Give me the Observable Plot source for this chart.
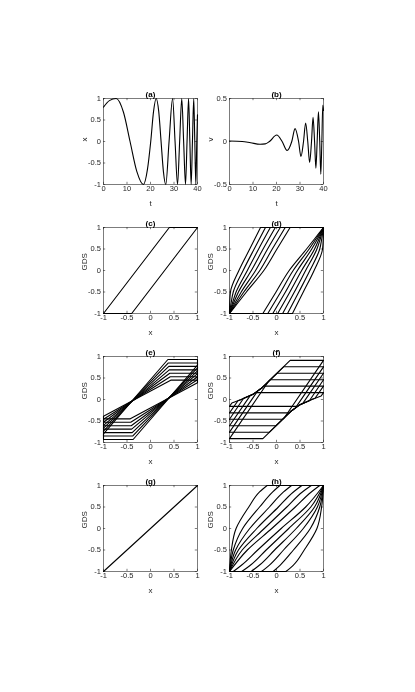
<!DOCTYPE html>
<html><head><meta charset="utf-8">
<script src="https://cdn.jsdelivr.net/npm/d3@7"></script>
<script src="https://cdn.jsdelivr.net/npm/@observablehq/plot@0.6"></script>
<style>
body{margin:0;background:#fff;}
#fig{position:relative;width:415px;height:692px;overflow:hidden;background:#fff;}
#fig > div{will-change:transform;}
</style></head><body><div id="fig"></div>
<script>
// ---------- tick labels ----------
const tTicks = [0, 10, 20, 30, 40];
const unitTicks = [-1, -0.5, 0, 0.5, 1];
const halfTicks = [-0.5, 0, 0.5];

// ---------- (a) x(t) ----------
const tA = [0, 2.5, 5.4, 8.5, 11.3, 14.2, 17, 18.7, 20.1, 21.3, 22.4, 23.5, 24.5, 25.5, 26.5, 27.9, 29.4, 30.45, 31.5, 32.4, 33.3, 34.1, 34.9, 35.55, 36.2, 36.75, 37.3, 37.85, 38.4, 38.85, 39.3, 39.7, 40];
const xA = [0.8, 0.95, 1, 0.68, 0, -0.7, -1, -0.65, 0, 0.7, 1, 0.7, 0, -0.7, -1, 0, 1, 0, -1, 0, 1, 0, -1, 0, 1, 0, -1, 0, 1, 0, -1, 0, 0.62];

// ---------- (b) v(t) ----------
const tB = [0, 5.4, 9, 13, 15.2, 17, 20.1, 22.4, 24.5, 26.5, 27.9, 29.4, 30.4, 31.5, 32.4, 33.3, 34.1, 34.9, 35.55, 36.2, 36.75, 37.3, 37.85, 38.4, 38.85, 39.3, 39.7, 40];
const vB = [0.005, 0, -0.015, -0.032, -0.028, 0, 0.075, 0, -0.105, 0, 0.15, 0, -0.175, 0, 0.215, 0, -0.245, 0, 0.28, 0, -0.31, 0, 0.345, 0, -0.38, 0, 0.42, 0.36];

// ---------- (c) single loop ----------
const cX = [-1, 0.4, 1, -0.4, -1];
const cY = [-1, 1, 1, -1, -1];

// ---------- (d) ascending / descending branches ----------
const dLevelsUp = [-1, -0.75, -0.5, 0, 0.5, 1];
const dUp = [
  [-1, -0.995, -0.98, -0.80, -0.57, -0.34],
  [-1, -0.965, -0.92, -0.71, -0.475, -0.235],
  [-1, -0.935, -0.86, -0.62, -0.38, -0.13],
  [-1, -0.91, -0.81, -0.535, -0.285, -0.025],
  [-1, -0.88, -0.75, -0.445, -0.19, 0.08],
  [-1, -0.85, -0.695, -0.355, -0.09, 0.185],
  [-1, -0.82, -0.64, -0.27, 0.01, 0.29]
];
const dLevelsDown = [-1, -0.5, 0, 0.5, 0.75, 1];
const dDown = [
  [0.34, 0.57, 0.80, 0.98, 0.995, 1],
  [0.235, 0.475, 0.71, 0.92, 0.965, 1],
  [0.13, 0.38, 0.62, 0.86, 0.935, 1],
  [0.025, 0.285, 0.535, 0.81, 0.91, 1],
  [-0.08, 0.19, 0.445, 0.75, 0.88, 1],
  [-0.185, 0.09, 0.355, 0.695, 0.85, 1],
  [-0.29, -0.01, 0.27, 0.64, 0.82, 1]
];

// ---------- (e) loops: rung height, edge start, kink ----------
const eRung = [0.93, 0.85, 0.77, 0.69, 0.61, 0.53, 0.45];
const eEdge = [0.80, 0.735, 0.665, 0.60, 0.53, 0.46, 0.39];
const eKink = [0.37, 0.38, 0.39, 0.40, 0.41, 0.42, 0.43];

// ---------- (f) loops (upper and lower branches) ----------
const fUp = [
  [[-1, -0.91], [-0.17, 0.42], [0.29, 0.91], [1, 0.91]],
  [[-1, -0.76], [-0.4, 0.2], [-0.3, 0.28], [0.15, 0.76], [1, 0.76]],
  [[-1, -0.61], [-0.56, 0.09], [-0.5, 0.12], [-0.3, 0.28], [0.01, 0.61], [1, 0.61]],
  [[-1, -0.46], [-0.7, 0.03], [-0.5, 0.12], [-0.3, 0.28], [-0.13, 0.46], [1, 0.46]],
  [[-1, -0.31], [-0.82, -0.03], [-0.75, 0], [-0.5, 0.12], [-0.3, 0.28], [-0.27, 0.31], [1, 0.31]],
  [[-1, -0.16], [-0.95, -0.08], [-0.75, 0], [-0.5, 0.12], [-0.45, 0.16], [1, 0.16]]
];
const fDown = [
  [[1, 0.91], [0.17, -0.42], [-0.29, -0.91], [-1, -0.91]],
  [[1, 0.76], [0.4, -0.2], [0.3, -0.28], [-0.15, -0.76], [-1, -0.76]],
  [[1, 0.61], [0.56, -0.09], [0.5, -0.12], [0.3, -0.28], [-0.01, -0.61], [-1, -0.61]],
  [[1, 0.46], [0.7, -0.03], [0.5, -0.12], [0.3, -0.28], [0.13, -0.46], [-1, -0.46]],
  [[1, 0.31], [0.82, 0.03], [0.75, 0], [0.5, -0.12], [0.3, -0.28], [0.27, -0.31], [-1, -0.31]],
  [[1, 0.16], [0.95, 0.08], [0.75, 0], [0.5, -0.12], [0.45, -0.16], [-1, -0.16]]
];

// ---------- (g) ----------
const gX = [-1, 1];
const gY = [-1, 1];

// ---------- (h) ascending / descending branches ----------
const hLevelsUp = [-1, -0.5, 0, 0.5, 0.85, 1];
const hUp = [
  [-1, -0.62, -0.1, 0.4, 0.74, 0.92],
  [-1, -0.73, -0.26, 0.22, 0.55, 0.74],
  [-1, -0.81, -0.42, 0.04, 0.36, 0.54],
  [-1, -0.87, -0.57, -0.15, 0.15, 0.32],
  [-1, -0.92, -0.72, -0.36, -0.08, 0.07],
  [-1, -0.96, -0.86, -0.59, -0.36, -0.2]
];
const hLevelsDown = [-1, -0.85, -0.5, 0, 0.5, 1];
const hDown = [
  [-0.92, -0.74, -0.4, 0.1, 0.62, 1],
  [-0.74, -0.55, -0.22, 0.26, 0.73, 1],
  [-0.54, -0.36, -0.04, 0.42, 0.81, 1],
  [-0.32, -0.15, 0.15, 0.57, 0.87, 1],
  [-0.07, 0.08, 0.36, 0.72, 0.92, 1],
  [0.2, 0.36, 0.59, 0.86, 0.96, 1]
];

// ---------- helpers ----------
const LW = 1.1;
const INK = "black";
const FRAME = "#262626";
const FONT = "'Liberation Sans', Arial, Helvetica, sans-serif";

function seriesRows(xs, ys) { return xs.map((x, i) => ({x, y: ys[i]})); }
function branchRows(levels, sets, tag) {
  return sets.flatMap((arr, k) => arr.map((x, i) => ({x, y: levels[i], k: tag + k})));
}
function tailRows(levels, sets, tag, xEnd, atEnd) {
  // horizontal run along the frame from a branch end to the corner
  return sets.flatMap((arr, k) => {
    const i = atEnd ? arr.length - 1 : 0;
    return [{x: arr[i], y: levels[i], k: tag + k}, {x: xEnd, y: levels[i], k: tag + k}];
  });
}
function pairRows(sets, tag) {
  return sets.flatMap((arr, k) => arr.map(([x, y]) => ({x, y, k: tag + k})));
}

const lineOpts = {x: "x", y: "y", stroke: INK, strokeWidth: LW};

const colLeft = [103.3, 229.0];
const rowTop = [97.5, 226.8, 356.2, 485.2];

const panels = [
  {title: "(a)", xlabel: "t", ylabel: "x", col: 0, row: 0, xdom: [0, 40], ydom: [-1, 1], xt: tTicks, yt: unitTicks,
   marks: [Plot.line(seriesRows(tA, xA), {...lineOpts, curve: "monotone-x"})]},
  {title: "(b)", xlabel: "t", ylabel: "v", col: 1, row: 0, xdom: [0, 40], ydom: [-0.5, 0.5], xt: tTicks, yt: halfTicks,
   marks: [Plot.line(seriesRows(tB, vB), {...lineOpts, curve: "monotone-x"})]},
  {title: "(c)", xlabel: "x", ylabel: "GDS", col: 0, row: 1, xdom: [-1, 1], ydom: [-1, 1], xt: unitTicks, yt: unitTicks,
   marks: [Plot.line(seriesRows(cX, cY), lineOpts)]},
  {title: "(d)", xlabel: "x", ylabel: "GDS", col: 1, row: 1, xdom: [-1, 1], ydom: [-1, 1], xt: unitTicks, yt: unitTicks,
   marks: [
     Plot.line(branchRows(dLevelsUp, dUp, "u"), {...lineOpts, z: "k", curve: "monotone-y"}),
     Plot.line(branchRows(dLevelsDown, dDown, "d"), {...lineOpts, z: "k", curve: "monotone-y"}),
     Plot.line(tailRows(dLevelsUp, dUp, "tu", 1, true), {...lineOpts, z: "k"}),
     Plot.line(tailRows(dLevelsDown, dDown, "td", -1, false), {...lineOpts, z: "k"})
   ]},
  {title: "(e)", xlabel: "x", ylabel: "GDS", col: 0, row: 2, xdom: [-1, 1], ydom: [-1, 1], xt: unitTicks, yt: unitTicks,
   marks: [Plot.line(eRung.flatMap((d, k) => {
     const c = eEdge[k], q = eKink[k];
     return [[-1, -c], [q, d], [1, d], [1, c], [-q, -d], [-1, -d], [-1, -c]].map(([x, y]) => ({x, y, k}));
   }), {...lineOpts, z: "k"})]},
  {title: "(f)", xlabel: "x", ylabel: "GDS", col: 1, row: 2, xdom: [-1, 1], ydom: [-1, 1], xt: unitTicks, yt: unitTicks,
   marks: [
     Plot.line(pairRows(fUp, "u"), {...lineOpts, z: "k"}),
     Plot.line(pairRows(fDown, "d"), {...lineOpts, z: "k"})
   ]},
  {title: "(g)", xlabel: "x", ylabel: "GDS", col: 0, row: 3, xdom: [-1, 1], ydom: [-1, 1], xt: unitTicks, yt: unitTicks,
   marks: [Plot.line(seriesRows(gX, gY), lineOpts)]},
  {title: "(h)", xlabel: "x", ylabel: "GDS", col: 1, row: 3, xdom: [-1, 1], ydom: [-1, 1], xt: unitTicks, yt: unitTicks,
   marks: [
     Plot.line(branchRows(hLevelsUp, hUp, "u"), {...lineOpts, z: "k", curve: "monotone-y"}),
     Plot.line(branchRows(hLevelsDown, hDown, "d"), {...lineOpts, z: "k", curve: "monotone-y"}),
     Plot.line(tailRows(hLevelsUp, hUp, "tu", 1, true), {...lineOpts, z: "k"}),
     Plot.line(tailRows(hLevelsDown, hDown, "td", -1, false), {...lineOpts, z: "k"})
   ]}
];

const fig = document.getElementById("fig");
const ml = 34, mr = 6, mt = 16, mb = 30, fw = 94, fh = 86;
const tk = 2.2;

for (const p of panels) {
  const svg = Plot.plot({
    width: fw + ml + mr, height: fh + mt + mb,
    marginLeft: ml, marginRight: mr, marginTop: mt, marginBottom: mb,
    x: {domain: p.xdom}, y: {domain: p.ydom},
    style: {fontFamily: FONT, fontSize: "7.5px", background: "transparent", color: FRAME, overflow: "visible"},
    marks: [
      Plot.frame({stroke: FRAME, strokeWidth: 0.6}),
      Plot.tickX(p.xt, {x: d => d, insetTop: fh - tk, stroke: FRAME, strokeWidth: 0.6}),
      Plot.tickX(p.xt, {x: d => d, insetBottom: fh - tk, stroke: FRAME, strokeWidth: 0.6}),
      Plot.tickY(p.yt, {y: d => d, insetRight: fw - tk, stroke: FRAME, strokeWidth: 0.6}),
      Plot.tickY(p.yt, {y: d => d, insetLeft: fw - tk, stroke: FRAME, strokeWidth: 0.6}),
      ...p.marks,
      Plot.axisX(p.xt, {tickSize: 0, tickPadding: 1.5, tickFormat: d => String(d), label: null, fill: FRAME}),
      Plot.axisY(p.yt, {tickSize: 0, tickPadding: 2.5, tickFormat: d => String(d), label: null, fill: FRAME}),
      Plot.text([p.title], {text: d => d, frameAnchor: "top", dy: -7, fontWeight: "bold", fontSize: 8, fill: "black"}),
      Plot.text([p.xlabel], {text: d => d, frameAnchor: "bottom", dy: 21, fontSize: 8, fill: FRAME}),
      Plot.text([p.ylabel], {text: d => d, frameAnchor: "left", dx: -19, rotate: -90, fontSize: 8, fill: FRAME})
    ]
  });
  const div = document.createElement("div");
  div.style.position = "absolute";
  div.style.left = (colLeft[p.col] - ml) + "px";
  div.style.top = (rowTop[p.row] - mt) + "px";
  div.appendChild(svg);
  fig.appendChild(div);
}
</script></body></html>
